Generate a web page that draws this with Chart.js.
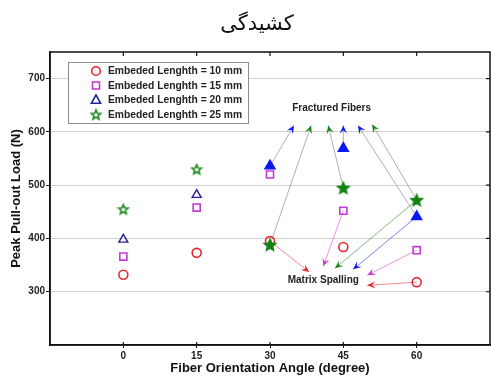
<!DOCTYPE html>
<html>
<head>
<meta charset="utf-8">
<script src="https://cdn.jsdelivr.net/npm/chart.js@4.4.0/dist/chart.umd.min.js"></script>
<style>
  html, body { margin: 0; padding: 0; background: #fff; }
</style>
</head>
<body>
<canvas id="chart" width="491" height="376"></canvas>
<script>
// data
const titleText = "کشیدگی";
const angles = [0, 15, 30, 45, 60];
const load10 = [332, 373, 395, 384, 318];
const load15 = [366, 458, 520, 452, 378];
const load20 = [398, 482, 536, 569, 441];
const load25 = [455, 530, 388, 495, 472];
const seriesNames = ["Embeded Lenghth = 10 mm", "Embeded Lenghth = 15 mm", "Embeded Lenghth = 20 mm", "Embeded Lenghth = 25 mm"];
const yTickValues = [300, 400, 500, 600, 700];

// annotation arrows: [series, point index] -> tip (in data units)
const fracturedFrom = [[2, 2], [3, 2], [3, 3], [2, 3], [2, 4], [3, 4]];
const fracturedTipX = [34.9, 38.4, 41.9, 45.0, 48.0, 50.9];
const fracturedTipY = [612, 612, 612, 612, 612, 614];
const spallingFrom = [[0, 2], [1, 3], [3, 4], [2, 4], [1, 4], [0, 4]];
const spallingTipX = [38.0, 40.9, 43.3, 47.0, 49.9, 49.9];
const spallingTipY = [337, 348, 344, 342, 331, 312];
const fracturedLabel = { text: "Fractured Fibers", x: 42.6, y: 645 };
const spallingLabel = { text: "Matrix Spalling", x: 40.9, y: 321 };

const FONT = "'Liberation Sans', Arial, sans-serif";
const RED = "#e8262f", PURPLE = "#c43ad4", NAVY = "#232394", BLUE = "#0a18f0", GREEN = "#1e8a1e", GREEN2 = "#128212";
const seriesColors = [RED, PURPLE, BLUE, GREEN2];

function starPath(ctx, cx, cy, r) {
    ctx.beginPath();
    for (let i = 0; i < 10; i++) {
        const rr = i % 2 === 0 ? r : r * 0.45;
        const a = -Math.PI / 2 + i * Math.PI / 5;
        const px = cx + rr * Math.cos(a), py = cy + rr * Math.sin(a);
        if (i === 0) ctx.moveTo(px, py); else ctx.lineTo(px, py);
    }
    ctx.closePath();
}

function makeStar(r, color, filled) {
    const c = document.createElement("canvas");
    const s = Math.ceil(r * 2 + 4);
    c.width = s; c.height = s;
    const ctx = c.getContext("2d");
    starPath(ctx, s / 2, s / 2 + 0.5, r);
    ctx.lineJoin = "miter";
    ctx.lineWidth = 1.6;
    ctx.strokeStyle = color;
    if (filled) { ctx.fillStyle = color; ctx.fill(); }
    ctx.stroke();
    return c;
}

const starOpen = makeStar(5, GREEN, false);
const starFill = makeStar(5.8, GREEN2, true);

const pts = arr => arr.map((v, i) => ({ x: angles[i], y: v }));

function drawArrow(ctx, sx, sy, tx, ty, lineColor, headColor) {
    ctx.save();
    ctx.strokeStyle = lineColor;
    ctx.lineWidth = 1;
    ctx.beginPath();
    ctx.moveTo(sx, sy);
    ctx.lineTo(tx, ty);
    ctx.stroke();
    const a = Math.atan2(ty - sy, tx - sx);
    const L = 8, W = 3.6;
    ctx.translate(tx, ty);
    ctx.rotate(a);
    ctx.fillStyle = headColor;
    ctx.beginPath();
    ctx.moveTo(0, 0);
    ctx.lineTo(-L, -W);
    ctx.lineTo(-L * 0.6, 0);
    ctx.lineTo(-L, W);
    ctx.closePath();
    ctx.fill();
    ctx.restore();
}

const seriesData = [load10, load15, load20, load25];

const extras = {
    id: "extras",
    beforeDatasetsDraw(chart) {
        const { ctx, scales: { x, y } } = chart;
        fracturedFrom.forEach(([s, i], k) => {
            drawArrow(ctx, x.getPixelForValue(angles[i]), y.getPixelForValue(seriesData[s][i]),
                x.getPixelForValue(fracturedTipX[k]), y.getPixelForValue(fracturedTipY[k]),
                "rgba(150,150,150,0.75)", seriesColors[s]);
        });
        spallingFrom.forEach(([s, i], k) => {
            const col = seriesColors[s];
            drawArrow(ctx, x.getPixelForValue(angles[i]), y.getPixelForValue(seriesData[s][i]),
                x.getPixelForValue(spallingTipX[k]), y.getPixelForValue(spallingTipY[k]),
                col + "88", col);
        });
    },
    afterDraw(chart) {
        const { ctx, chartArea: a, scales: { x, y } } = chart;
        ctx.save();
        // frame and mirrored ticks
        ctx.strokeStyle = "#111";
        ctx.lineWidth = 1.5;
        ctx.strokeRect(a.left, a.top, a.right - a.left, a.bottom - a.top);
        ctx.lineWidth = 1.2;
        ctx.beginPath();
        angles.forEach(v => {
            const px = x.getPixelForValue(v);
            ctx.moveTo(px, a.top); ctx.lineTo(px, a.top + 4);
            ctx.moveTo(px, a.bottom); ctx.lineTo(px, a.bottom - 3);
        });
        yTickValues.forEach(v => {
            const py = y.getPixelForValue(v);
            ctx.moveTo(a.right, py); ctx.lineTo(a.right - 4, py);
        });
        ctx.stroke();

        // title
        ctx.fillStyle = "#111";
        ctx.font = "21px 'DejaVu Serif', 'DejaVu Sans', serif";
        ctx.textAlign = "center";
        ctx.textBaseline = "middle";
        ctx.fillText(titleText, 257, 25);

        // annotation labels
        ctx.font = "bold 10px " + FONT;
        ctx.fillStyle = "#222";
        ctx.fillText(fracturedLabel.text, x.getPixelForValue(fracturedLabel.x), y.getPixelForValue(fracturedLabel.y));
        ctx.fillText(spallingLabel.text, x.getPixelForValue(spallingLabel.x), y.getPixelForValue(spallingLabel.y));

        // legend
        const lx = a.left + 18, ly = a.top + 10, lw = 180, lh = 61;
        ctx.fillStyle = "#fff";
        ctx.fillRect(lx, ly, lw, lh);
        ctx.strokeStyle = "#8c8c8c";
        ctx.lineWidth = 1;
        ctx.strokeRect(lx + 0.5, ly + 0.5, lw, lh);
        ctx.textAlign = "left";
        ctx.font = "bold 10.3px " + FONT;
        seriesNames.forEach((name, i) => {
            const cy = ly + 9 + i * 14.5;
            const mx = lx + 28;
            ctx.lineWidth = 1.6;
            if (i === 0) {
                ctx.strokeStyle = RED;
                ctx.beginPath(); ctx.arc(mx, cy, 4.3, 0, Math.PI * 2); ctx.stroke();
            } else if (i === 1) {
                ctx.strokeStyle = PURPLE;
                ctx.strokeRect(mx - 3.5, cy - 3.5, 7, 7);
            } else if (i === 2) {
                ctx.strokeStyle = NAVY;
                ctx.beginPath();
                ctx.moveTo(mx, cy - 5); ctx.lineTo(mx + 4.6, cy + 3.2); ctx.lineTo(mx - 4.6, cy + 3.2);
                ctx.closePath(); ctx.stroke();
            } else {
                ctx.drawImage(starOpen, mx - starOpen.width / 2, cy - starOpen.height / 2);
            }
            ctx.fillStyle = "#222";
            ctx.fillText(name, lx + 40, cy + 0.5);
        });
        ctx.restore();
    }
};

new Chart(document.getElementById("chart"), {
    type: "scatter",
    data: {
        datasets: [
            {
                label: seriesNames[0], data: pts(load10), order: 4,
                pointStyle: "circle", pointRadius: 4.5, borderWidth: 1.6,
                borderColor: RED, backgroundColor: "rgba(0,0,0,0)"
            },
            {
                label: seriesNames[1], data: pts(load15), order: 3,
                pointStyle: "rect", pointRadius: 5, borderWidth: 1.6,
                borderColor: PURPLE, backgroundColor: "rgba(0,0,0,0)"
            },
            {
                label: seriesNames[2], data: pts(load20), order: 2,
                pointStyle: "triangle", pointRadius: [5.2, 5.2, 5.8, 5.8, 5.8], borderWidth: 1.4,
                borderColor: [NAVY, NAVY, BLUE, BLUE, BLUE],
                backgroundColor: ["rgba(0,0,0,0)", "rgba(0,0,0,0)", BLUE, BLUE, BLUE]
            },
            {
                label: seriesNames[3], data: pts(load25), order: 1,
                pointStyle: [starOpen, starOpen, starFill, starFill, starFill], pointRadius: 6,
                borderColor: GREEN, backgroundColor: GREEN
            }
        ]
    },
    options: {
        responsive: false,
        animation: false,
        layout: { autoPadding: false, padding: { top: 52, right: 1, left: 0, bottom: 0 } },
        plugins: { legend: { display: false }, tooltip: { enabled: false }, title: { display: false } },
        scales: {
            x: {
                type: "linear", min: -15, max: 75,
                afterBuildTicks: s => { s.ticks = angles.map(v => ({ value: v })); },
                afterFit: s => { s.height = 31; s.paddingLeft = 0; s.paddingRight = 0; },
                grid: { drawOnChartArea: false, drawTicks: true, tickLength: 3, tickColor: "#111" },
                border: { color: "#111", width: 1.5 },
                ticks: { font: { family: FONT, size: 10, weight: "bold" }, color: "#222", padding: 2, maxRotation: 0 },
                title: { display: true, text: "Fiber Orientation Angle (degree)", font: { family: FONT, size: 13, weight: "bold" }, color: "#111", padding: 0 }
            },
            y: {
                type: "linear", min: 200, max: 750,
                afterBuildTicks: s => { s.ticks = yTickValues.map(v => ({ value: v })); },
                afterFit: s => { s.width = 50; s.paddingTop = 0; s.paddingBottom = 0; },
                grid: { color: "#d2d2d2", lineWidth: 1, tickColor: "#111", tickLength: 4 },
                border: { color: "#111", width: 1.5 },
                ticks: { font: { family: FONT, size: 10, weight: "bold" }, color: "#222", padding: 1 },
                title: { display: true, text: "Peak Pull-out Load (N)", font: { family: FONT, size: 13, weight: "bold" }, color: "#111", padding: { top: 9, bottom: 0 } }
            }
        }
    },
    plugins: [extras]
});
</script>
</body>
</html>
